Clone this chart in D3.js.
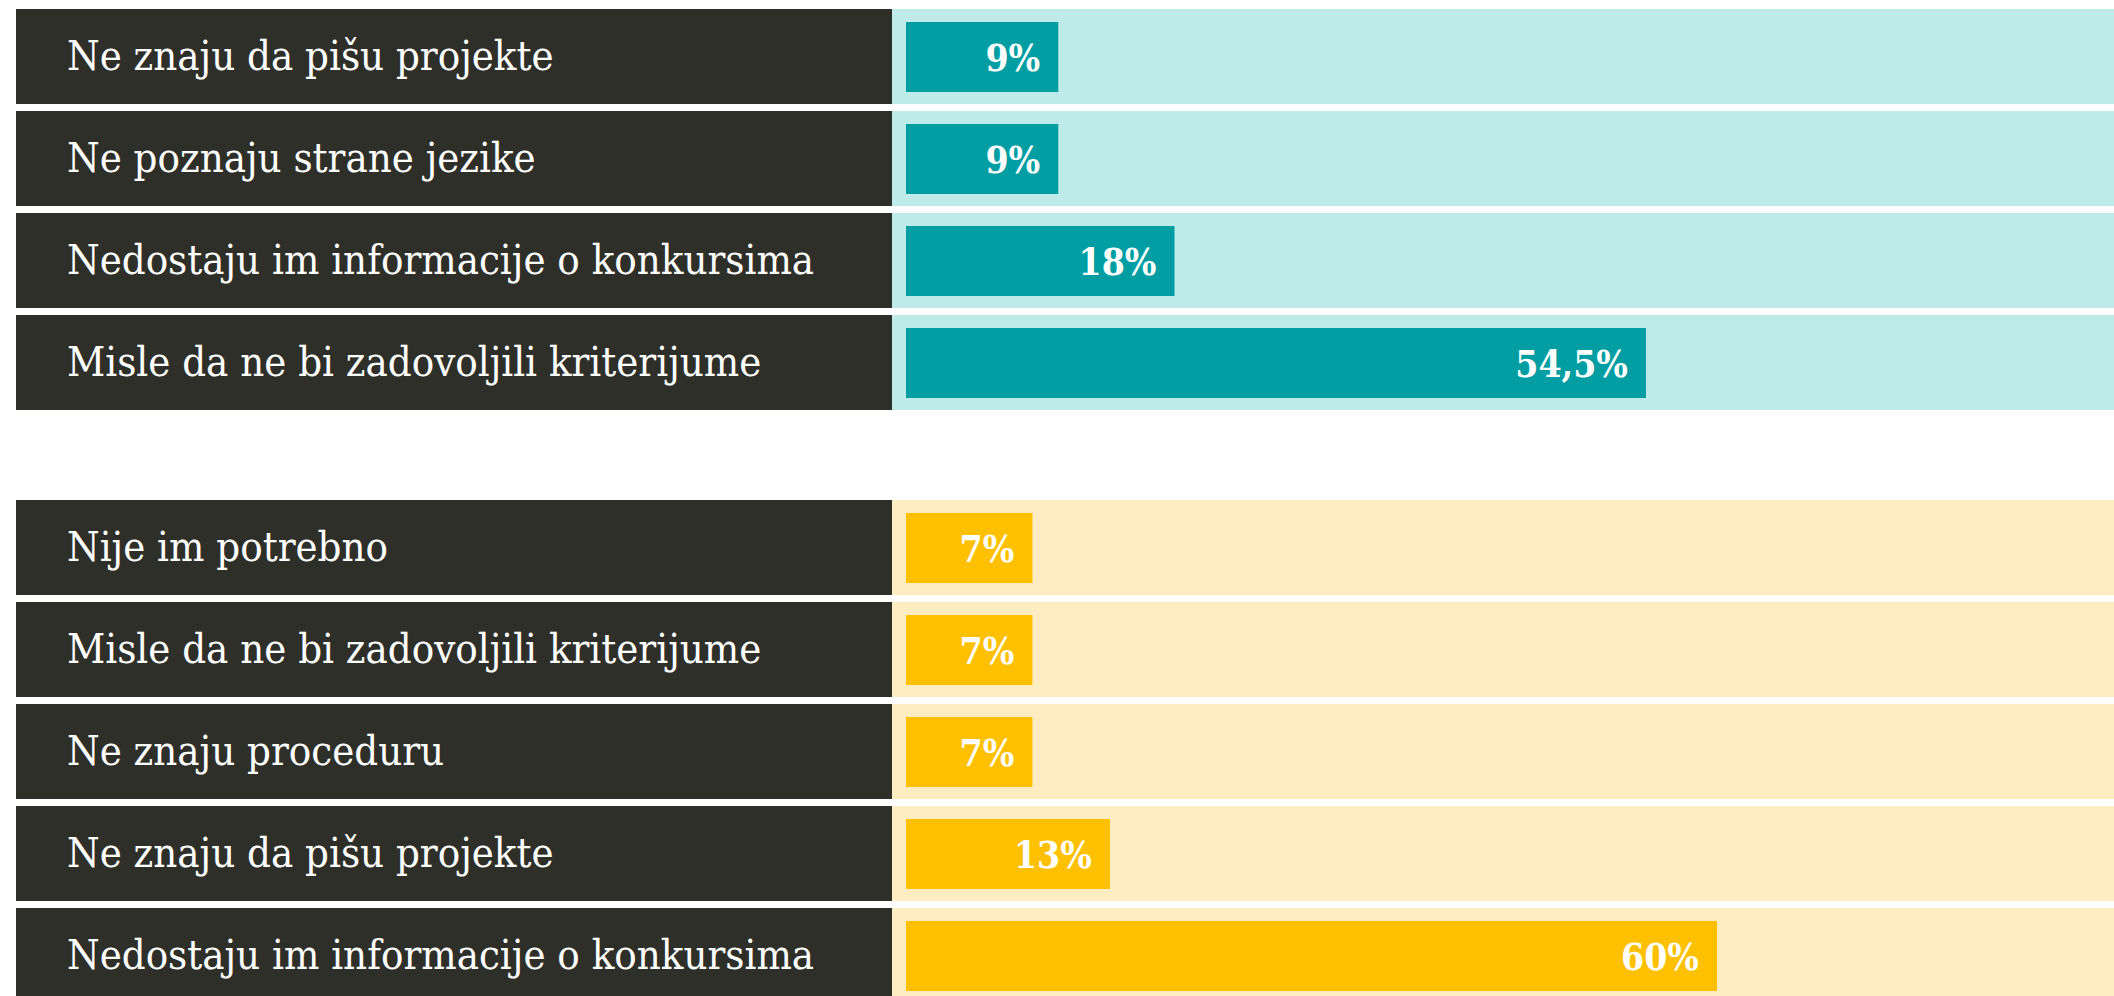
<!DOCTYPE html>
<html>
<head>
<meta charset="utf-8">
<script src="https://cdn.jsdelivr.net/npm/d3@7"></script>
<style>
  html, body { margin: 0; padding: 0; background: #fff; overflow: hidden; }
  .row-label { font-family: "DejaVu Serif Condensed", "DejaVu Serif", serif; font-stretch: condensed; fill: #fff; font-size: 41.5px; }
  .value-label { font-family: "DejaVu Serif Condensed", "DejaVu Serif", serif; font-stretch: condensed; font-weight: bold; fill: #fff; font-size: 37px; }
</style>
</head>
<body>
<div class="chart"></div>
<script>
    // Data
    const topLabels = [
      'Ne znaju da pišu projekte',
      'Ne poznaju strane jezike',
      'Nedostaju im informacije o konkursima',
      'Misle da ne bi zadovoljili kriterijume'
    ];
    const topValues = [9, 9, 18, 54.5];

    const bottomLabels = [
      'Nije im potrebno',
      'Misle da ne bi zadovoljili kriterijume',
      'Ne znaju proceduru',
      'Ne znaju da pišu projekte',
      'Nedostaju im informacije o konkursima'
    ];
    const bottomValues = [7, 7, 7, 13, 60];

    // Frame
    const width = 2114;
    const height = 996;
    const labelLeft = 16;
    const labelRight = 892;
    const barLeft = 906;
    const rowStep = 102;
    const rowGap = 7;
    const barInset = 13;
    const barHeight = 70;

    // Value labels use a decimal comma
    const locale = d3.formatLocale({decimal: ',', thousands: '.', grouping: [3], currency: ['', '']});
    const fmt = v => locale.format(Number.isInteger(v) ? 'd' : '.1f')(v) + '%';

    // bar length scale (bars keep a small pad so the label fits)
    const xScale = d3.scaleLinear()
        .domain([0, 60])
        .range([36, 811]);

    const groups = [
      {labels: topLabels, values: topValues, top: 9, bar: '#009ea3', bg: '#bfeaea'},
      {labels: bottomLabels, values: bottomValues, top: 500, bar: '#ffc000', bg: '#feedc1'}
    ];

    const svg = d3.select('.chart').append('svg')
        .attr('width', width)
        .attr('height', height);

    function drawGroup(g) {
      const n = g.labels.length;
      const yScale = d3.scaleBand()
          .domain(d3.range(n))
          .range([g.top, g.top + n * rowStep - rowGap])
          .paddingInner(rowGap / rowStep)
          .paddingOuter(0);

      const rows = g.labels.map((label, i) => ({label, value: g.values[i], i}));

      const el = svg.append('g');

      // light background strip
      el.selectAll('.bg')
        .data(rows)
        .enter().append('rect')
          .attr('class', 'bg')
          .attr('x', labelRight)
          .attr('y', d => yScale(d.i))
          .attr('width', width - labelRight)
          .attr('height', yScale.bandwidth())
          .attr('fill', g.bg);

      // dark label cell
      el.selectAll('.cell')
        .data(rows)
        .enter().append('rect')
          .attr('class', 'cell')
          .attr('x', labelLeft)
          .attr('y', d => yScale(d.i))
          .attr('width', labelRight - labelLeft)
          .attr('height', yScale.bandwidth())
          .attr('fill', '#2f2f2a');

      el.selectAll('.row-label')
        .data(rows)
        .enter().append('text')
          .attr('class', 'row-label')
          .attr('x', 67)
          .attr('y', d => yScale(d.i) + yScale.bandwidth() / 2 + 13)
          .text(d => d.label);

      el.selectAll('.bar')
        .data(rows)
        .enter().append('rect')
          .attr('class', 'bar')
          .attr('x', barLeft)
          .attr('y', d => yScale(d.i) + barInset)
          .attr('width', d => xScale(d.value))
          .attr('height', barHeight)
          .attr('fill', g.bar);

      el.selectAll('.value-label')
        .data(rows)
        .enter().append('text')
          .attr('class', 'value-label')
          .attr('text-anchor', 'end')
          .attr('x', d => barLeft + xScale(d.value) - 18)
          .attr('y', d => yScale(d.i) + barInset + barHeight / 2 + 14)
          .text(d => fmt(d.value));
    }

    groups.forEach(drawGroup);
</script>
</body>
</html>
